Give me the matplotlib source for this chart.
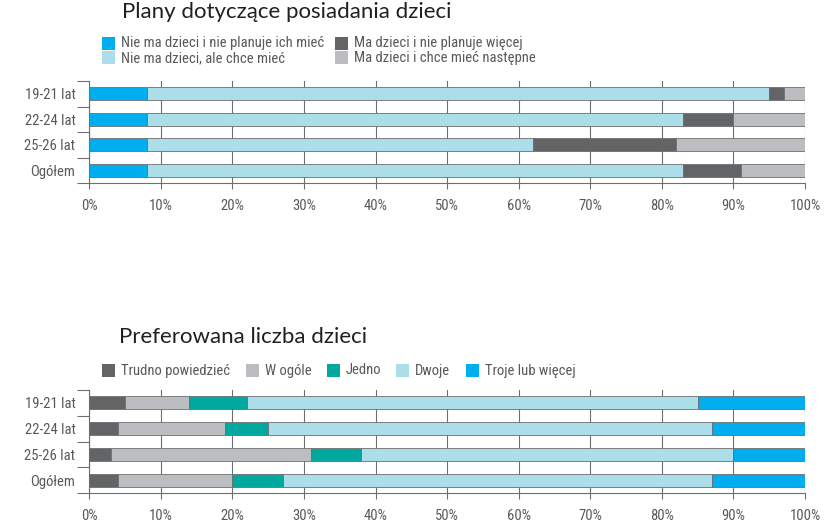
import matplotlib
matplotlib.use('Agg')
import matplotlib.pyplot as plt
from matplotlib import font_manager
from matplotlib.patches import Rectangle

# --- data ---
groups = ['19-21 lat', '22-24 lat', '25-26 lat', 'Ogółem']

plans_labels = ['Nie ma dzieci i nie planuje ich mieć', 'Nie ma dzieci, ale chce mieć',
                'Ma dzieci i nie planuje więcej', 'Ma dzieci i chce mieć następne']
plans_none_no = [8, 8, 8, 8]
plans_none_yes = [87, 75, 54, 75]
plans_has_no = [2, 7, 20, 8]
plans_has_yes = [3, 10, 18, 9]

pref_labels = ['Trudno powiedzieć', 'W ogóle', 'Jedno', 'Dwoje', 'Troje lub więcej']
pref_hard = [5, 4, 3, 4]
pref_none = [9, 15, 28, 16]
pref_one = [8, 6, 7, 7]
pref_two = [63, 62, 52, 60]
pref_three = [15, 13, 10, 13]

xticks = list(range(0, 101, 10))
xlabels = [f'{v}%' for v in xticks]

BLUE = '#00aeef'
LBLUE = '#abdee8'
DGRAY = '#636466'
LGRAY = '#bcbdc0'
TEAL = '#00a89d'
LINE = '#6d6e71'
TXT = '#58595b'

names = {f.name for f in font_manager.fontManager.ttflist}
small_font, small_size = 'Lato', 9.6
for cand in ['Liberation Sans Narrow', 'DejaVu Sans Condensed', 'Roboto Condensed']:
    if cand in names:
        small_font, small_size = cand, 10.5
        break
title_font = 'Lato'

W, H = 833, 527
fig = plt.figure(figsize=(W / 100, H / 100), dpi=100)


def px_axes(left, top, right, bottom):
    return fig.add_axes([left / W, 1 - bottom / H, (right - left) / W, (bottom - top) / H])


def stacked(ax, series, colors):
    y = list(range(len(groups)))
    left = [0] * len(groups)
    for vals, c in zip(series, colors):
        ax.barh(y, vals, left=left, height=0.51, color=c, edgecolor=LINE,
                linewidth=0.6, zorder=3)
        left = [a + b for a, b in zip(left, vals)]

    ax.set_xlim(0, 100)
    ax.set_ylim(len(groups) - 0.5, -0.5)
    ax.set_xticks(xticks)
    ax.set_xticklabels(xlabels, fontfamily=small_font, fontsize=small_size, color=TXT)
    ax.set_yticks(y)
    ax.set_yticklabels(groups, fontfamily=small_font, fontsize=small_size, color=TXT)
    ax.set_yticks([i - 0.5 for i in range(len(groups) + 1)], minor=True)
    ax.tick_params(axis='y', which='major', length=0, pad=10)
    ax.tick_params(axis='y', which='minor', length=9, width=0.8, color=LINE)
    ax.tick_params(axis='x', length=4.5, width=0.8, color=LINE, pad=7)
    ax.grid(axis='x', color=LINE, linewidth=0.8, zorder=0)
    ax.set_axisbelow(True)
    for s in ['top', 'right']:
        ax.spines[s].set_visible(False)
    for s in ['left', 'bottom']:
        ax.spines[s].set_color(LINE)
        ax.spines[s].set_linewidth(0.8)


def legend_item(x, y, color, label):
    fig.patches.append(Rectangle((x / W, 1 - (y + 6.5) / H), 13 / W, 13 / H,
                                 transform=fig.transFigure, facecolor=color,
                                 edgecolor='none'))
    fig.text((x + 19) / W, 1 - (y + 4.5) / H, label, fontfamily=small_font,
             fontsize=small_size, color=TXT, va='baseline', ha='left')


# --- top chart ---
fig.text(122 / W, 1 - 12 / H, 'Plany dotyczące posiadania dzieci', fontfamily=title_font,
         fontsize=16, color='#231f20', va='center', ha='left')
plan_colors = [BLUE, LBLUE, DGRAY, LGRAY]
for lab, c, (x, y) in zip(plans_labels, plan_colors,
                          [(102, 43), (102, 57.5), (335, 43), (335, 57.5)]):
    legend_item(x, y, c, lab)

ax1 = px_axes(89.3, 81, 805, 183.3)
stacked(ax1, [plans_none_no, plans_none_yes, plans_has_no, plans_has_yes], plan_colors)

# --- bottom chart ---
fig.text(119 / W, 1 - 337 / H, 'Preferowana liczba dzieci', fontfamily=title_font,
         fontsize=16, color='#231f20', va='center', ha='left')
pref_colors = [DGRAY, LGRAY, TEAL, LBLUE, BLUE]
for lab, c, x in zip(pref_labels, pref_colors, [102, 246, 327, 396, 466]):
    legend_item(x, 370, c, lab)

ax2 = px_axes(89.3, 390, 805, 493.3)
stacked(ax2, [pref_hard, pref_none, pref_one, pref_two, pref_three], pref_colors)

fig.savefig('out.png', dpi=100)
